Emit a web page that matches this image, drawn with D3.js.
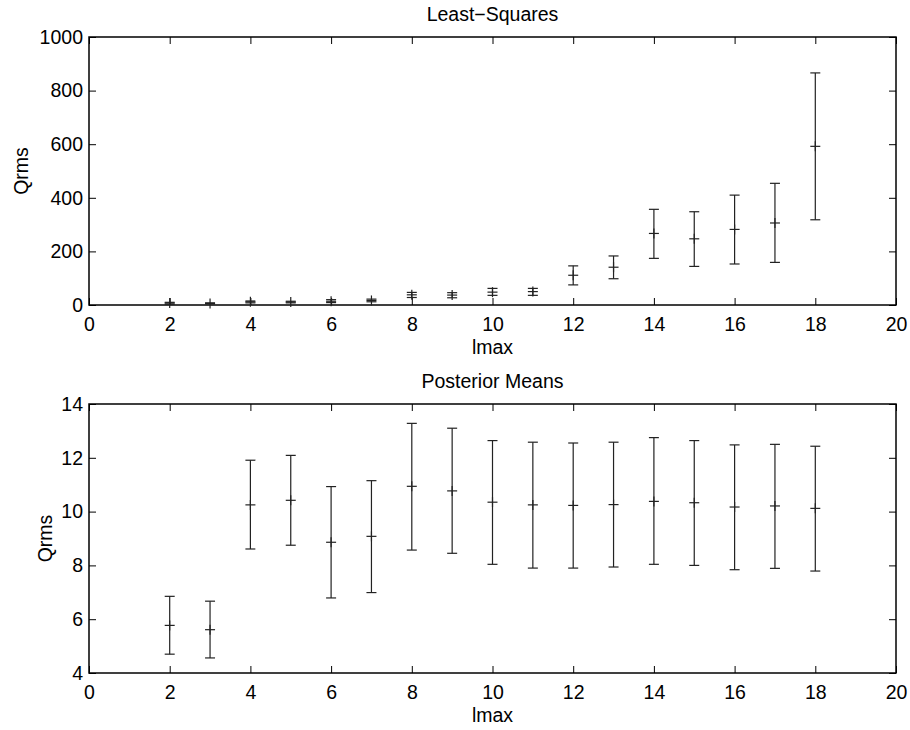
<!DOCTYPE html>
<html>
<head>
<meta charset="utf-8">
<script src="https://cdn.jsdelivr.net/npm/d3@7"></script>
<style>
  body { margin: 0; background: #fff; }
  svg { font-family: "Liberation Sans", Arial, Helvetica, sans-serif; }
</style>
</head>
<body>
<div id="chart"></div>
<script>
// lmax values shared by both panels
var lmax = [2, 3, 4, 5, 6, 7, 8, 9, 10, 11, 12, 13, 14, 15, 16, 17, 18];

// Least-Squares panel
var lsMean  = [7, 6, 12, 11, 14, 17, 38, 37, 48, 50, 111, 141, 267, 247, 282, 306, 592];
var lsLow   = [3, 4, 8, 8, 9, 12, 28, 27, 36, 36, 75, 98, 174, 144, 153, 159, 318];
var lsHigh  = [10, 8, 15, 14, 20, 22, 47, 46, 62, 62, 146, 183, 357, 348, 410, 454, 866];
var lsTicks = [0, 200, 400, 600, 800, 1000];

// Posterior Means panel
var pmMean  = [5.77, 5.61, 10.25, 10.42, 8.86, 9.08, 10.94, 10.77, 10.35, 10.25, 10.23, 10.26, 10.38, 10.33, 10.17, 10.21, 10.12];
var pmLow   = [4.70, 4.56, 8.61, 8.75, 6.79, 6.99, 8.57, 8.45, 8.04, 7.90, 7.90, 7.94, 8.04, 8.00, 7.84, 7.89, 7.79];
var pmHigh  = [6.85, 6.67, 11.91, 12.09, 10.93, 11.15, 13.28, 13.10, 12.64, 12.58, 12.55, 12.58, 12.75, 12.64, 12.48, 12.50, 12.43];
var pmTicks = [4, 6, 8, 10, 12, 14];

var xTicks = [0, 2, 4, 6, 8, 10, 12, 14, 16, 18, 20];

var width = 910, height = 730;
var fontSize = '19.5px';
var svg = d3.select('#chart').append('svg')
    .attr('width', width)
    .attr('height', height);

function drawPanel(opt) {
    var left = 89, right = 896;
    var x = d3.scaleLinear().domain([0, 20]).range([left, right]);
    var y = d3.scaleLinear().domain(opt.yDomain).range([opt.bottom, opt.top]);
    var g = svg.append('g');
    var tick = 7;

    // inward ticks on all four sides
    g.append('g')
        .attr('transform', 'translate(0,' + opt.bottom + ')')
        .call(d3.axisBottom(x).tickValues(xTicks).tickSize(-tick).tickPadding(12.5).tickFormat(d3.format('d')));
    g.append('g')
        .attr('transform', 'translate(0,' + opt.top + ')')
        .call(d3.axisTop(x).tickValues(xTicks).tickSize(-tick).tickFormat(''));
    g.append('g')
        .attr('transform', 'translate(' + left + ',0)')
        .call(d3.axisLeft(y).tickValues(opt.yTicks).tickSize(-tick).tickPadding(6).tickFormat(d3.format('d')));
    g.append('g')
        .attr('transform', 'translate(' + right + ',0)')
        .call(d3.axisRight(y).tickValues(opt.yTicks).tickSize(-tick).tickFormat(''));

    g.selectAll('.domain').remove();
    g.selectAll('.tick line').attr('stroke', '#000').attr('stroke-width', 1);
    g.selectAll('.tick text').attr('fill', '#000').style('font-size', fontSize);

    g.append('rect')
        .attr('x', left).attr('y', opt.top)
        .attr('width', right - left).attr('height', opt.bottom - opt.top)
        .attr('fill', 'none').attr('stroke', '#000').attr('stroke-width', 1.5);

    // error bars
    var cap = 5, mk = 5;
    var bars = g.selectAll('.bar').data(lmax).enter().append('g').attr('class', 'bar');
    bars.append('line')
        .attr('x1', function (d) { return x(d); })
        .attr('x2', function (d) { return x(d); })
        .attr('y1', function (d, i) { return y(opt.low[i]); })
        .attr('y2', function (d, i) { return y(opt.high[i]); });
    bars.append('line')
        .attr('x1', function (d) { return x(d) - cap; })
        .attr('x2', function (d) { return x(d) + cap; })
        .attr('y1', function (d, i) { return y(opt.low[i]); })
        .attr('y2', function (d, i) { return y(opt.low[i]); });
    bars.append('line')
        .attr('x1', function (d) { return x(d) - cap; })
        .attr('x2', function (d) { return x(d) + cap; })
        .attr('y1', function (d, i) { return y(opt.high[i]); })
        .attr('y2', function (d, i) { return y(opt.high[i]); });
    // '+' marker at the mean
    bars.append('line')
        .attr('x1', function (d) { return x(d) - mk; })
        .attr('x2', function (d) { return x(d) + mk; })
        .attr('y1', function (d, i) { return y(opt.mean[i]); })
        .attr('y2', function (d, i) { return y(opt.mean[i]); });
    bars.append('line')
        .attr('x1', function (d) { return x(d); })
        .attr('x2', function (d) { return x(d); })
        .attr('y1', function (d, i) { return y(opt.mean[i]) - mk; })
        .attr('y2', function (d, i) { return y(opt.mean[i]) + mk; });
    bars.selectAll('line').attr('stroke', '#222').attr('stroke-width', 1.2);

    // titles and labels
    g.append('text')
        .attr('x', (left + right) / 2).attr('y', opt.top - 16.5)
        .attr('text-anchor', 'middle').style('font-size', fontSize)
        .text(opt.title);
    g.append('text')
        .attr('x', (left + right) / 2).attr('y', opt.bottom + 48.5)
        .attr('text-anchor', 'middle').style('font-size', fontSize)
        .text('lmax');
    g.append('text')
        .attr('transform', 'translate(' + opt.ylabX + ',' + (opt.top + opt.bottom) / 2 + ') rotate(-90)')
        .attr('text-anchor', 'middle').style('font-size', fontSize)
        .text('Qrms');
}

drawPanel({
    top: 37, bottom: 305, yDomain: [0, 1000], yTicks: lsTicks,
    mean: lsMean, low: lsLow, high: lsHigh,
    title: 'Least\u2212Squares', ylabX: 28
});
drawPanel({
    top: 404, bottom: 673, yDomain: [4, 14], yTicks: pmTicks,
    mean: pmMean, low: pmLow, high: pmHigh,
    title: 'Posterior Means', ylabX: 52
});
</script>
</body>
</html>
